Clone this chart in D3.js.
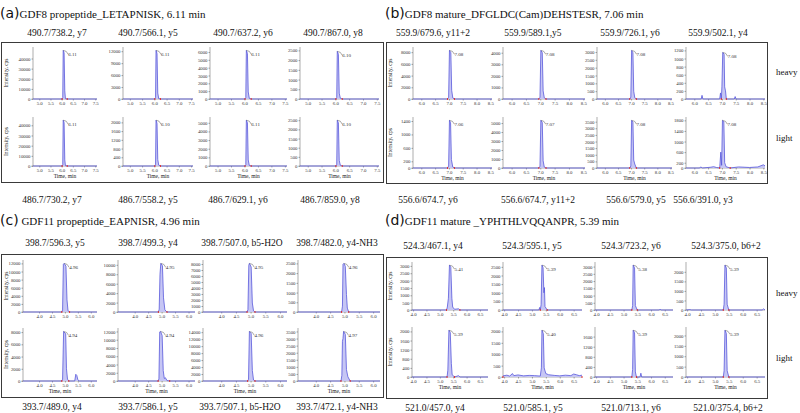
<!DOCTYPE html>
<html><head><meta charset="utf-8">
<script src="https://cdn.jsdelivr.net/npm/d3@7"></script>
<style>body{margin:0;background:#fff}svg{display:block}</style>
</head><body>
<svg id="c" width="800" height="413"></svg>
<script>
// ---------------- DATA ----------------
const panelLetters = ["(a)", "(b)", "(c)", "(d)"];
const panelTitles = ["GDF8 propeptide_LETAPNISK,  6.11 min", "GDF8 mature_DFGLDC(Cam)DEHSTESR,  7.06 min",
  " GDF11 propeptide_EAPNISR,  4.96 min", "GDF11 mature  _YPHTHLVQQANPR, 5.39 min"];
const heavyLightLabels = ["heavy", "light"];

const aTopLabels = ["490.7/738.2, y7", "490.7/566.1, y5", "490.7/637.2, y6", "490.7/867.0, y8"];
const aBottomLabels = ["486.7/730.2, y7", "486.7/558.2, y5", "486.7/629.1, y6", "486.7/859.0, y8"];
const bTopLabels = ["559.9/679.6, y11+2", "559.9/589.1,y5", "559.9/726.1, y6", "559.9/502.1, y4"];
const bBottomLabels = ["556.6/674.7, y6", "556.6/674.7, y11+2", "556.6/579.0, y5", "556.6/391.0, y3"];
const cTopLabels = ["398.7/596.3, y5", "398.7/499.3, y4", "398.7/507.0, b5-H2O", "398.7/482.0, y4-NH3"];
const cBottomLabels = ["393.7/489.0, y4", "393.7/586.1, y5", "393.7/507.1, b5-H2O", "393.7/472.1, y4-NH3"];
const dTopLabels = ["524.3/467.1, y4", "524.3/595.1, y5", "524.3/723.2, y6", "524.3/375.0, b6+2"];
const dBottomLabels = ["521.0/457.0, y4", "521.0/585.1, y5", "521.0/713.1, y6", "521.0/375.4, b6+2"];

const aXTicks = [5.0, 5.5, 6.0, 6.5, 7.0, 7.5];
const bXTicks = [6.0, 6.5, 7.0, 7.5, 8.0, 8.5];
const cXTicks = [4.0, 4.5, 5.0, 5.5, 6.0];
const dXTicks = [4.0, 4.5, 5.0, 5.5, 6.0, 6.5];

// order: heavy col1..col4, light col1..col4
const aYTicks = [[0,10000,20000,30000,40000],[0,3000,6000,9000,12000],[0,1000,2000,3000,4000,5000,6000],[0,500,1000,1500,2000,2500],
  [0,10000,20000,30000,40000],[0,400,800,1200,1600,2000],[0,1000,2000,3000,4000,5000],[0,500,1000,1500,2000,2500]];
const bYTicks = [[0,2000,4000,6000,8000],[0,1000,2000,3000,4000],[0,500,1000,1500,2000,2500,3000],[0,200,400,600,800,1000,1200],
  [0,200,600,1000,1400],[0,1000,2000,3000,4000,5000],[0,500,1000,1500,2000,2500,3000,3500],[0,200,600,1000,1400,1800]];
const cYTicks = [[0,2000,4000,6000,8000,10000,12000],[0,2000,4000,6000,8000,10000],[0,1000,2000,3000,4000,5000,6000,7000,8000],[0,500,1000,1500,2000,2500],
  [0,2000,4000,6000,8000],[0,2000,4000,6000,8000,10000,12000],[0,2000,4000,6000,8000,10000,12000,14000],[0,500,1000,1500,2000,2500,3000,3500]];
const dYTicks = [[0,500,1000,1500,2000,2500,3000],[0,500,1000,1500,2000,2500],[0,500,1000,1500,2000,2500,3000],[0,500,1000,1500,2000],
  [0,400,800,1200,1600,2000],[0,500,1000,1500,2000],[0,400,800,1200,1600],[0,500,1000,1500,2000]];

const aRT = ["6.11","6.11","6.11","6.10","6.11","6.10","6.11","6.10"];
const bRT = ["7.08","7.08","7.08","7.08","7.06","7.07","7.08","7.08"];
const cRT = ["4.96","4.95","4.95","4.96","4.94","4.94","4.96","4.97"];
const dRT = ["5.41","5.39","5.38","5.39","5.39","5.40","5.39","5.39"];

// chromatogram traces [time, intensity]
const aTraces = [
  [[4.72,0],[6.02,0],[6.05,1500],[6.07,48000],[6.11,45500],[6.14,8000],[6.17,300],[6.25,0],[7.58,0]],
  [[4.72,0],[6.02,0],[6.05,400],[6.07,12200],[6.11,11400],[6.14,1500],[6.18,100],[6.25,0],[7.58,0]],
  [[4.72,0],[6.02,0],[6.05,200],[6.07,6200],[6.11,5800],[6.14,900],[6.18,80],[6.25,0],[7.58,0]],
  [[4.72,0],[6.02,0],[6.05,80],[6.07,2450],[6.11,2300],[6.14,300],[6.18,40],[6.25,0],[7.58,0]],
  [[4.72,0],[6.02,0],[6.05,1200],[6.07,45000],[6.11,42500],[6.14,6000],[6.17,300],[6.25,0],[7.58,0]],
  [[4.72,0],[6.02,0],[6.05,80],[6.07,2100],[6.11,1950],[6.14,300],[6.18,40],[6.25,0],[7.58,0]],
  [[4.72,0],[6.02,0],[6.05,150],[6.07,5300],[6.11,5000],[6.14,700],[6.18,60],[6.25,0],[7.58,0]],
  [[4.72,0],[6.02,0],[6.05,90],[6.07,2500],[6.11,2350],[6.14,300],[6.18,40],[6.25,0],[7.58,0]]
];
const bTraces = [
  [[5.7,0],[6.95,0],[6.99,300],[7.02,8300],[7.07,7900],[7.1,1500],[7.14,200],[7.2,0],[8.56,0]],
  [[5.7,0],[6.95,0],[6.99,150],[7.02,4200],[7.07,4000],[7.1,700],[7.14,100],[7.2,0],[8.56,0]],
  [[5.7,0],[6.95,0],[6.99,120],[7.02,3100],[7.07,2950],[7.1,500],[7.14,80],[7.2,0],[8.56,0]],
  [[5.7,0],[6.25,0],[6.28,90],[6.31,0],[6.92,0],[6.95,150],[6.98,0],[7.0,300],[7.03,1150],[7.08,1100],[7.1,300],[7.13,200],[7.16,0],[7.45,0],[7.48,60],[7.51,0],[8.56,0]],
  [[5.7,0],[6.95,0],[6.99,60],[7.02,1420],[7.06,1350],[7.09,250],[7.14,30],[7.2,0],[8.56,0]],
  [[5.7,0],[6.95,0],[6.99,200],[7.02,5300],[7.07,5050],[7.1,800],[7.14,100],[7.2,0],[8.56,0]],
  [[5.7,0],[6.95,0],[6.99,150],[7.02,3600],[7.07,3450],[7.1,600],[7.14,300],[7.2,0],[8.56,0]],
  [[5.7,0],[6.2,0],[6.23,40],[6.3,0],[6.6,30],[6.7,50],[6.8,20],[6.92,0],[6.96,600],[6.99,100],[7.02,1800],[7.07,1750],[7.1,200],[7.15,50],[7.3,0],[7.6,40],[8.0,20],[8.3,40],[8.5,120],[8.56,80]]
];
const cTraces = [
  [[3.38,0],[4.88,0],[4.91,500],[4.94,11800],[4.97,12000],[5.04,11300],[5.08,3000],[5.12,300],[5.18,0],[6.24,0]],
  [[3.38,0],[4.88,0],[4.91,600],[4.94,8000],[4.97,10300],[5.03,9800],[5.07,3000],[5.12,500],[5.16,200],[5.2,0],[6.24,0]],
  [[3.38,0],[4.88,0],[4.91,400],[4.94,7800],[4.96,8100],[5.02,7500],[5.06,1500],[5.1,200],[5.15,0],[6.24,0]],
  [[3.38,0],[4.9,0],[4.93,300],[4.95,2450],[4.98,2500],[5.03,2350],[5.07,900],[5.1,200],[5.15,0],[6.24,0]],
  [[3.38,0],[4.88,0],[4.91,300],[4.95,8100],[5.03,7700],[5.06,2000],[5.1,300],[5.15,0],[5.38,0],[5.42,1100],[5.46,900],[5.5,200],[5.55,0],[6.24,0]],
  [[3.38,0],[4.87,0],[4.9,500],[4.93,11900],[4.96,12000],[5.02,11000],[5.06,2500],[5.1,600],[5.14,800],[5.2,100],[5.3,0],[6.24,0]],
  [[3.38,0],[4.9,0],[4.93,500],[4.96,14200],[5.02,13600],[5.06,3000],[5.1,300],[5.15,0],[6.24,0]],
  [[3.38,0],[4.88,0],[4.91,400],[4.93,2800],[4.95,3000],[4.97,3500],[5.03,3300],[5.07,800],[5.12,300],[5.2,0],[6.24,0]]
];
const dTraces = [
  [[3.96,0],[5.25,0],[5.28,200],[5.32,800],[5.36,3050],[5.41,2900],[5.45,800],[5.48,200],[5.55,50],[5.7,80],[5.75,0],[6.8,0]],
  [[3.96,0],[5.25,0],[5.28,150],[5.3,0],[5.33,300],[5.36,2600],[5.4,2450],[5.43,1000],[5.45,1300],[5.47,200],[5.55,0],[6.8,0]],
  [[3.96,0],[5.3,0],[5.33,300],[5.35,3100],[5.4,2900],[5.43,300],[5.5,0],[6.3,0],[6.33,60],[6.36,0],[6.8,0]],
  [[3.96,0],[4.1,20],[4.15,0],[5.3,0],[5.33,300],[5.36,2350],[5.41,2200],[5.44,300],[5.5,0],[6.7,0],[6.75,60],[6.8,0]],
  [[3.96,0],[5.27,0],[5.3,300],[5.34,2050],[5.39,1950],[5.43,600],[5.46,100],[5.55,0],[5.7,60],[5.75,0],[6.8,0]],
  [[3.96,50],[4.1,80],[4.2,40],[4.3,150],[4.35,60],[4.5,90],[4.7,50],[4.9,70],[5.1,60],[5.3,40],[5.34,400],[5.36,2050],[5.41,1900],[5.44,400],[5.5,150],[5.6,100],[5.8,70],[6.0,50],[6.2,80],[6.4,60],[6.5,130],[6.6,100],[6.7,60],[6.8,80]],
  [[3.96,0],[5.3,0],[5.33,300],[5.35,1850],[5.4,1750],[5.43,200],[5.47,0],[5.6,0],[5.63,150],[5.66,0],[6.8,0]],
  [[3.96,0],[5.3,0],[5.33,300],[5.36,2250],[5.41,2100],[5.44,300],[5.5,0],[6.8,0]]
];

// ---------------- LAYOUT ----------------
const panels = [
  {letter:0, title:0, box:[1,42,383,182], cols:[[33,97],[123,193],[210,287],[300,379]], rows:[[47,99],[117,166]],
   xdom:[4.72,7.58], xticks:aXTicks, yticks:aYTicks, rts:aRT, traces:aTraces, ylabX:8, titleX:0, titleY:18,
   top:aTopLabels, bot:aBottomLabels, topY:36, botY:203, topCx:[57,148,243,333], botCx:[52,148,238,330]},
  {letter:1, title:1, box:[386,42,767,183], cols:[[413,492],[503,585],[597,672],[686,765]], rows:[[47,99],[117,168]],
   xdom:[5.7,8.56], xticks:bXTicks, yticks:bYTicks, rts:bRT, traces:bTraces, ylabX:392, titleX:385, titleY:18,
   top:bTopLabels, bot:bBottomLabels, topY:36, botY:203, topCx:[433,533,630,718], botCx:[428,538,636,703], hl:[75,141]},
  {letter:2, title:2, box:[1,254,383,397], cols:[[23,97],[118,195],[203,287],[298,380]], rows:[[260,312],[328,381]],
   xdom:[3.38,6.24], xticks:cXTicks, yticks:cYTicks, rts:cRT, traces:cTraces, ylabX:8, titleX:0, titleY:225,
   top:cTopLabels, bot:cBottomLabels, topY:246, botY:410, topCx:[55,148,242,337], botCx:[52,148,240,337]},
  {letter:3, title:3, box:[386,257,767,398], cols:[[412,488],[503,582],[595,673],[686,765]], rows:[[262,310],[327,377]],
   xdom:[3.96,6.8], xticks:dXTicks, yticks:dYTicks, rts:dRT, traces:dTraces, ylabX:392, titleX:385, titleY:225,
   top:dTopLabels, bot:dBottomLabels, topY:249, botY:411, topCx:[433,532,631,726], botCx:[435,533,631,728], hl:[296,361]}
];

const SERIF = "'Liberation Serif','Times New Roman',serif";
const SANS = "'DejaVu Sans','Liberation Sans',sans-serif";
const LINE = "#5858dc", FILL = "#c6c6f4";

const svg = d3.select("#c");

panels.forEach(p => {
  const g = svg.append("g");
  // box
  g.append("rect").attr("x", p.box[0]+0.5).attr("y", p.box[1]+0.5)
    .attr("width", p.box[2]-p.box[0]).attr("height", p.box[3]-p.box[1])
    .attr("fill", "none").attr("stroke", "#3a3a3a").attr("stroke-width", 1);
  // title
  const t = g.append("text").attr("x", p.titleX).attr("y", p.titleY).attr("fill", "#111");
  t.append("tspan").attr("font-family", SANS).attr("font-size", 14).text(panelLetters[p.letter]);
  t.append("tspan").attr("font-family", SERIF).attr("font-size", 11).text(panelTitles[p.title]);
  // transition labels
  p.top.forEach((s, i) => g.append("text").attr("x", p.topCx[i]).attr("y", p.topY).attr("text-anchor", "middle")
    .attr("font-family", SERIF).attr("font-size", 9.5).attr("fill", "#111").text(s));
  p.bot.forEach((s, i) => g.append("text").attr("x", p.botCx[i]).attr("y", p.botY).attr("text-anchor", "middle")
    .attr("font-family", SERIF).attr("font-size", 9.5).attr("fill", "#111").text(s));
  if (p.hl) {
    heavyLightLabels.forEach((s, i) => g.append("text").attr("x", 776).attr("y", p.hl[i])
      .attr("font-family", SERIF).attr("font-size", 9).attr("fill", "#111").text(s));
  }
  // subplots
  p.rows.forEach((row, ri) => {
    // y label
    const cy = (row[0] + row[1]) / 2;
    g.append("text").attr("transform", `translate(${p.ylabX},${cy}) rotate(-90)`)
      .attr("text-anchor", "middle").attr("font-family", SERIF).attr("font-size", 5.5).attr("fill", "#222")
      .text("Intensity, cps");
    p.cols.forEach((col, ci) => {
      const k = ri * 4 + ci;
      const data = p.traces[k];
      const ticks = p.yticks[k];
      const peak = d3.max(data, d => d[1]);
      const ymax = Math.max(peak, d3.max(ticks)) * 1.07;
      const x = d3.scaleLinear().domain(p.xdom).range(col);
      const y = d3.scaleLinear().domain([0, ymax]).range([row[1], row[0]]);
      const sg = g.append("g");
      // axes
      const xa = sg.append("g").attr("transform", `translate(0,${row[1]})`)
        .call(d3.axisBottom(x).tickValues(p.xticks).tickFormat(d3.format(".1f")).tickSize(1.5).tickPadding(1.5));
      const ya = sg.append("g").attr("transform", `translate(${col[0]},0)`)
        .call(d3.axisLeft(y).tickValues(ticks).tickFormat(d3.format("d")).tickSize(1.5).tickPadding(1));
      [xa, ya].forEach(a => {
        a.selectAll("text").attr("font-family", SERIF).attr("font-size", 4.8).attr("fill", "#333");
        a.selectAll("line").attr("stroke", "#555").attr("stroke-width", 0.5);
        a.select(".domain").attr("stroke", "#777").attr("stroke-width", 0.6);
      });
      ya.select(".domain").attr("d", `M-1.5,${row[1]}H0V${row[0]}`);
      xa.select(".domain").attr("d", `M${col[0]},0H${col[1]}`);
      if (ri === 1) {
        sg.append("text").attr("x", (col[0] + col[1]) / 2).attr("y", row[1] + 12)
          .attr("text-anchor", "middle").attr("font-family", SERIF).attr("font-size", 5.5).attr("fill", "#222")
          .text("Time, min");
      }
      // trace
      const area = d3.area().x(d => x(d[0])).y0(y(0)).y1(d => y(d[1]));
      const line = d3.line().x(d => x(d[0])).y(d => y(d[1]));
      sg.append("path").attr("d", area(data)).attr("fill", FILL).attr("stroke", "none");
      sg.append("path").attr("d", line(data)).attr("fill", "none").attr("stroke", LINE).attr("stroke-width", 0.8);
      // integration markers
      const ai = d3.maxIndex(data, d => d[1]);
      let s = ai; while (s > 0 && data[s][1] > 0 && data[s-1][1] > 0) s--;
      if (s > 0) s--;
      let e = ai; while (e < data.length - 1 && data[e][1] > 0 && data[e+1][1] > 0) e++;
      if (e < data.length - 1) e++;
      [data[s][0], data[e][0]].forEach(tm => sg.append("line")
        .attr("x1", x(tm)).attr("x2", x(tm)).attr("y1", y(0) - 1).attr("y2", y(0) + 1)
        .attr("stroke", "#e03030").attr("stroke-width", 1));
      // peak label with hook
      const px = x(data[ai][0]), py = y(data[ai][1]);
      sg.append("path").attr("d", `M${px},${py}L${px+3},${py+1}L${px+5},${py+4}`)
        .attr("fill", "none").attr("stroke", "#555").attr("stroke-width", 0.5);
      sg.append("text").attr("x", px + 5).attr("y", py + 6).attr("font-family", SERIF).attr("font-size", 5)
        .attr("fill", "#333").text(p.rts[k]);
    });
  });
});
</script>
</body></html>
